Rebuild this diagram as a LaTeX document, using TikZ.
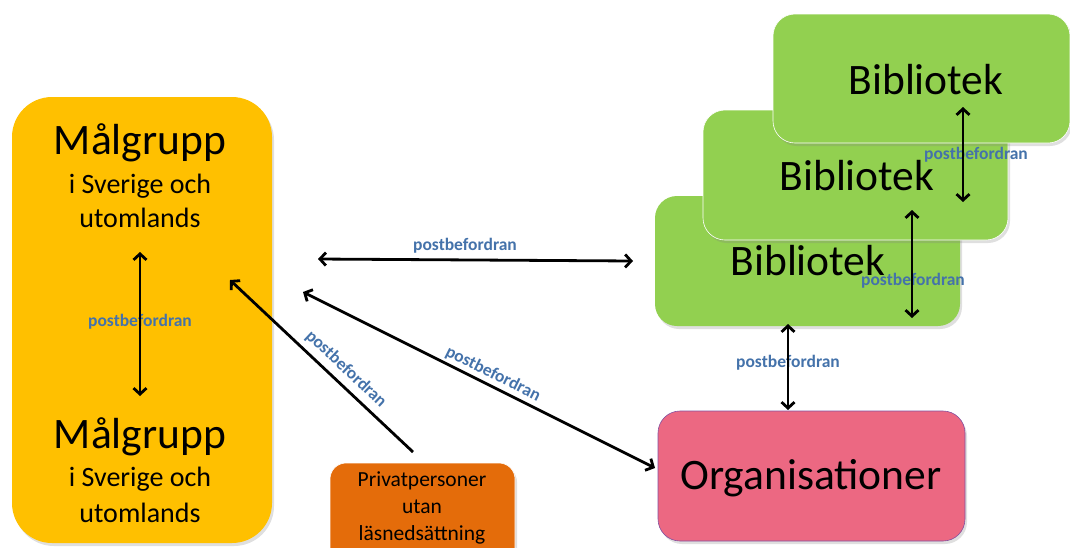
\documentclass[tikz,border=0pt]{standalone}
\usepackage{fontspec}
\setmainfont{Carlito}
\usetikzlibrary{arrows.meta,shadows}
\definecolor{gelb}{RGB}{255,192,0}
\definecolor{gruen}{RGB}{146,208,80}
\definecolor{rosa}{RGB}{236,104,130}
\definecolor{orng}{RGB}{228,108,10}
\definecolor{lbl}{RGB}{68,114,170}
\definecolor{rand}{RGB}{130,80,160}
\begin{document}
\begin{tikzpicture}[x=1pt,y=-1pt,
  box/.style={rounded corners=#1, inner sep=0pt, drop shadow={opacity=0.25,shadow xshift=2pt,shadow yshift=-3pt}},
  big/.style={font=\fontsize{43.5}{48}\selectfont},
  mid/.style={font=\fontsize{28}{32}\selectfont},
  sml/.style={font=\fontsize{21.5}{27}\selectfont, align=center},
  lab/.style={font=\fontsize{17.5}{20}\selectfont\bfseries, text=lbl, inner sep=1pt},
  arr/.style={line width=2.8pt, {Straight Barb[length=6pt,width=13pt]}-{Straight Barb[length=6pt,width=13pt]}},
  arrone/.style={line width=2.8pt, -{Straight Barb[length=6pt,width=13pt]}}]
\useasboundingbox (0,0) rectangle (1070,547);

% yellow box
\node[box=40pt, fill=gelb, minimum width=260pt, minimum height=446pt] (gul) at (142,320) {};
\node[big] (m1) at (140,143) {Målgrupp};
\node[mid] (s1) at (140,186) {i Sverige och};
\node[mid] (u1) at (140,218) {utomlands};
\node[big] (m2) at (140,437) {Målgrupp};
\node[mid] (s2) at (140,479) {i Sverige och};
\node[mid] (u2) at (140,513) {utomlands};
\node[lab] (lg) at (140,322) {postbefordran};
\coordinate (g1) at (140,252);
\coordinate (g2) at (140,396);
\draw[arr] (g1) -- (g2);

% green boxes
\node[box=22pt, fill=gruen, minimum width=305pt, minimum height=130pt] (b1) at (807.5,261) {};
\node[big] (t1) at (808,261) {Bibliotek};
\node[box=22pt, fill=gruen, draw=white, line width=0.6pt, minimum width=305pt, minimum height=130pt] (b2) at (855.5,175) {};
\node[big] (t2) at (857,176) {Bibliotek};
\node[box=22pt, fill=gruen, draw=white, line width=0.6pt, minimum width=297pt, minimum height=129pt] (b3) at (921.5,78.5) {};
\node[big] (t3) at (926,80) {Bibliotek};

\node[lab] (l3) at (976,155) {postbefordran};
\coordinate (c3a) at (963,107);
\coordinate (c3b) at (963,202);
\draw[arr] (c3a) -- (c3b);
\node[lab] (l2) at (913,281) {postbefordran};
\coordinate (c2a) at (912,210);
\coordinate (c2b) at (912,318);
\draw[arr] (c2a) -- (c2b);

% pink box
\node[box=22pt, fill=rosa, draw=rand, line width=0.6pt, minimum width=307pt, minimum height=130pt] (org) at (811.5,476) {};
\node[big] (ot) at (811,478) {Organisationer};

% orange box
\node[box=16pt, fill=orng, draw=white, line width=0.6pt, minimum width=185pt, minimum height=100pt] (pv) at (422.5,513) {};
\node[sml] (pt) at (422,508) {Privatpersoner\\utan\\läsnedsättning};

% arrows between
\node[lab] (lh) at (465,246) {postbefordran};
\coordinate (h1) at (318,259);
\coordinate (h2) at (633,261);
\draw[arr] (h1) -- (h2);

\node[lab] (lo) at (788,363) {postbefordran};
\coordinate (o1) at (788,324);
\coordinate (o2) at (788,410);
\draw[arr] (o1) -- (o2);

\node[lab, rotate=-26.6] (ld) at (493,374) {postbefordran};
\coordinate (d1) at (303,292);
\coordinate (d2) at (655,468);
\draw[arr] (d1) -- (d2);

\node[lab, rotate=-43.2] (lp) at (346,369) {postbefordran};
\coordinate (p1) at (413,452);
\coordinate (p2) at (230,280);
\draw[arrone] (p1) -- (p2);
\end{tikzpicture}
\end{document}
